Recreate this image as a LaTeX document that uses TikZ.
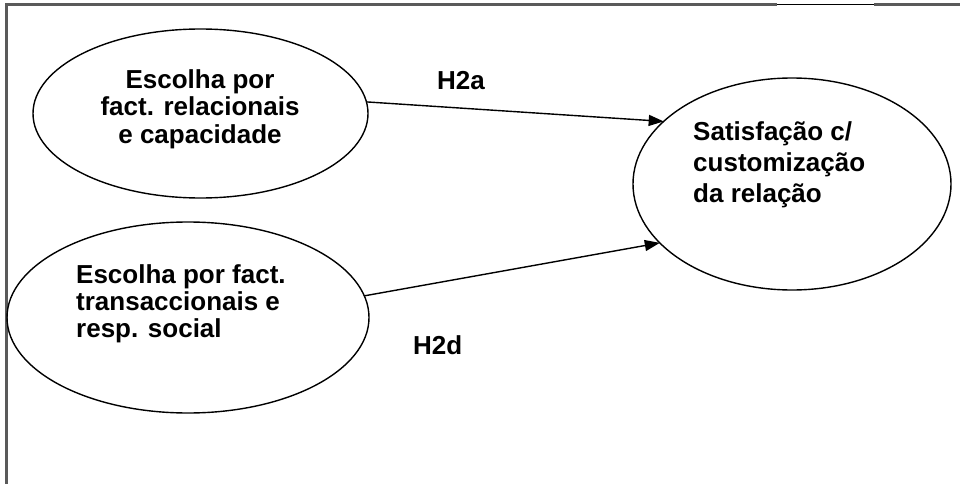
\documentclass[tikz,border=0pt]{standalone}
\usepackage{fontspec}
\setmainfont{Liberation Sans}
\usetikzlibrary{arrows.meta,shapes.geometric}
\definecolor{framegray}{HTML}{5A5A5A}
\tikzset{
  oval/.style={draw=black, line width=1.4pt, ellipse, inner sep=0pt, outer sep=0pt},
  lbl/.style={inner sep=0pt, font=\fontsize{26}{28}\selectfont\bfseries},
  conn/.style={line width=1.4pt, -{Triangle[length=15pt,width=11pt]}},
  frame/.style={framegray, line width=2.5pt},
}
\begin{document}
\begin{tikzpicture}[x=1pt,y=-1pt]
\useasboundingbox (0,0) rectangle (960,484);
% frame
\draw[frame] (6.5,484) -- (6.5,4.5) -- (777,4.5);
\draw[frame] (874,4.5) -- (960,4.5);
\draw[black, line width=1pt] (777,5) -- (874,5);
% ellipses
\node[oval, minimum width=335pt, minimum height=169pt] (e1) at (200.5,113.5) {};
\node[oval, minimum width=362pt, minimum height=191pt] (e2) at (188,317.5) {};
\node[oval, minimum width=318pt, minimum height=212pt] (e3) at (792,184) {};
% texts
\node[lbl, anchor=base] (t1) at (200,88.5)
  {\fontsize{26}{27.5}\selectfont\begin{tabular}[t]{@{}c@{}}Escolha por\\fact. relacionais\\e capacidade\end{tabular}};
\node[lbl, anchor=base west] (t2) at (76,283.5)
  {\fontsize{26}{27}\selectfont\begin{tabular}[t]{@{}l@{}}Escolha por fact.\\transaccionais e\\resp. social\end{tabular}};
\node[lbl, anchor=base west] (t3) at (693,140.5)
  {\fontsize{26}{31}\selectfont\begin{tabular}[t]{@{}l@{}}Satisfação c/\\customização\\da relação\end{tabular}};
% connectors
\draw[conn] (e1.4) -- (e3.154);
\draw[conn] (e2.7.4) -- (e3.204.3);
% labels
\node[lbl, anchor=base west] (h2a) at (437,90) {H2a};
\node[lbl, anchor=base west] (h2d) at (413,354) {H2d};
\end{tikzpicture}
\end{document}
